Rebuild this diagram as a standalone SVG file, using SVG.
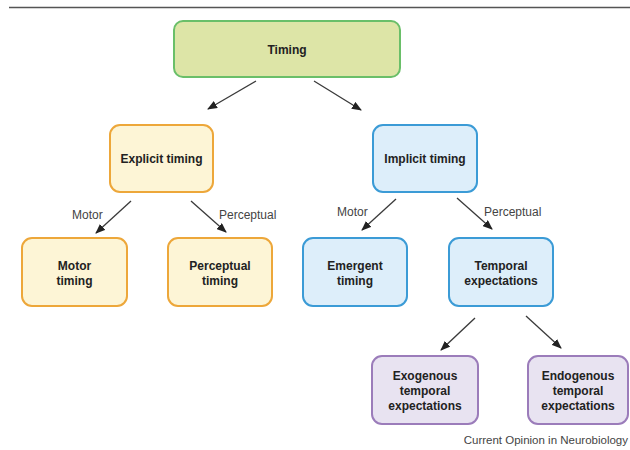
<svg xmlns="http://www.w3.org/2000/svg" width="630" height="450" viewBox="0 0 630 450">
<style>
.box{stroke-width:2}
.g{fill:#dde5a7;stroke:#6abf69}
.y{fill:#fdf5d6;stroke:#eda73a}
.b{fill:#ddeefa;stroke:#3b9bd6}
.p{fill:#e8e3f1;stroke:#9b7cba}
.t{font-family:"Liberation Sans",Arial,sans-serif;font-size:12px;font-weight:bold;fill:#222;text-anchor:middle}
.l{font-family:"Liberation Sans",Arial,sans-serif;font-size:12px;fill:#444}
.c{stroke:#3a3a3a;stroke-width:1.3;fill:none;marker-end:url(#ah)}
</style>
<defs>
<marker id="ah" markerWidth="10" markerHeight="8" refX="9" refY="4" orient="auto" markerUnits="userSpaceOnUse">
<path d="M0,0 L10,4 L0,8 z" fill="#222"/>
</marker>
</defs>
<rect width="630" height="450" fill="#fff"/>
<line x1="9" y1="7.5" x2="630" y2="7.5" stroke="#555" stroke-width="1.6"/>
<g id="connectors">
<line class="c" x1="256" y1="81" x2="208" y2="109"/>
<line class="c" x1="314" y1="81" x2="361" y2="110"/>
<line class="c" x1="131" y1="201" x2="96" y2="233"/>
<line class="c" x1="191" y1="201" x2="226" y2="232"/>
<line class="c" x1="396" y1="199" x2="362" y2="230"/>
<line class="c" x1="457" y1="198" x2="492" y2="229"/>
<line class="c" x1="475" y1="318" x2="441" y2="350"/>
<line class="c" x1="526" y1="316" x2="561" y2="348"/>
<text class="l" x="72" y="219">Motor</text>
<text class="l" x="219" y="219">Perceptual</text>
<text class="l" x="337" y="216">Motor</text>
<text class="l" x="484" y="216">Perceptual</text>
</g>
<g id="timing"><rect class="box g" x="174" y="21" width="226" height="56" rx="9"/><text class="t" x="287" y="54">Timing</text></g>
<g id="explicit"><rect class="box y" x="110" y="125" width="103" height="67" rx="10"/><text class="t" x="161.5" y="163">Explicit timing</text></g>
<g id="implicit"><rect class="box b" x="373" y="125" width="104" height="67" rx="10"/><text class="t" x="425" y="163">Implicit timing</text></g>
<g id="motor"><rect class="box y" x="22" y="238" width="105" height="68" rx="10"/><text class="t" x="74.5" y="270">Motor</text><text class="t" x="74.5" y="285">timing</text></g>
<g id="perceptual"><rect class="box y" x="168" y="238" width="104" height="68" rx="10"/><text class="t" x="220" y="270">Perceptual</text><text class="t" x="220" y="285">timing</text></g>
<g id="emergent"><rect class="box b" x="303" y="238" width="104" height="68" rx="10"/><text class="t" x="355" y="270">Emergent</text><text class="t" x="355" y="285">timing</text></g>
<g id="temporal"><rect class="box b" x="449" y="238" width="104" height="68" rx="10"/><text class="t" x="501" y="270">Temporal</text><text class="t" x="501" y="285">expectations</text></g>
<g id="exogenous"><rect class="box p" x="372" y="356" width="106" height="68" rx="10"/><text class="t" x="425" y="380">Exogenous</text><text class="t" x="425" y="395">temporal</text><text class="t" x="425" y="410">expectations</text></g>
<g id="endogenous"><rect class="box p" x="528" y="356" width="100" height="68" rx="10"/><text class="t" x="578" y="380">Endogenous</text><text class="t" x="578" y="395">temporal</text><text class="t" x="578" y="410">expectations</text></g>
<text class="l" x="628" y="444" style="font-size:11.5px;text-anchor:end">Current Opinion in Neurobiology</text>
</svg>
